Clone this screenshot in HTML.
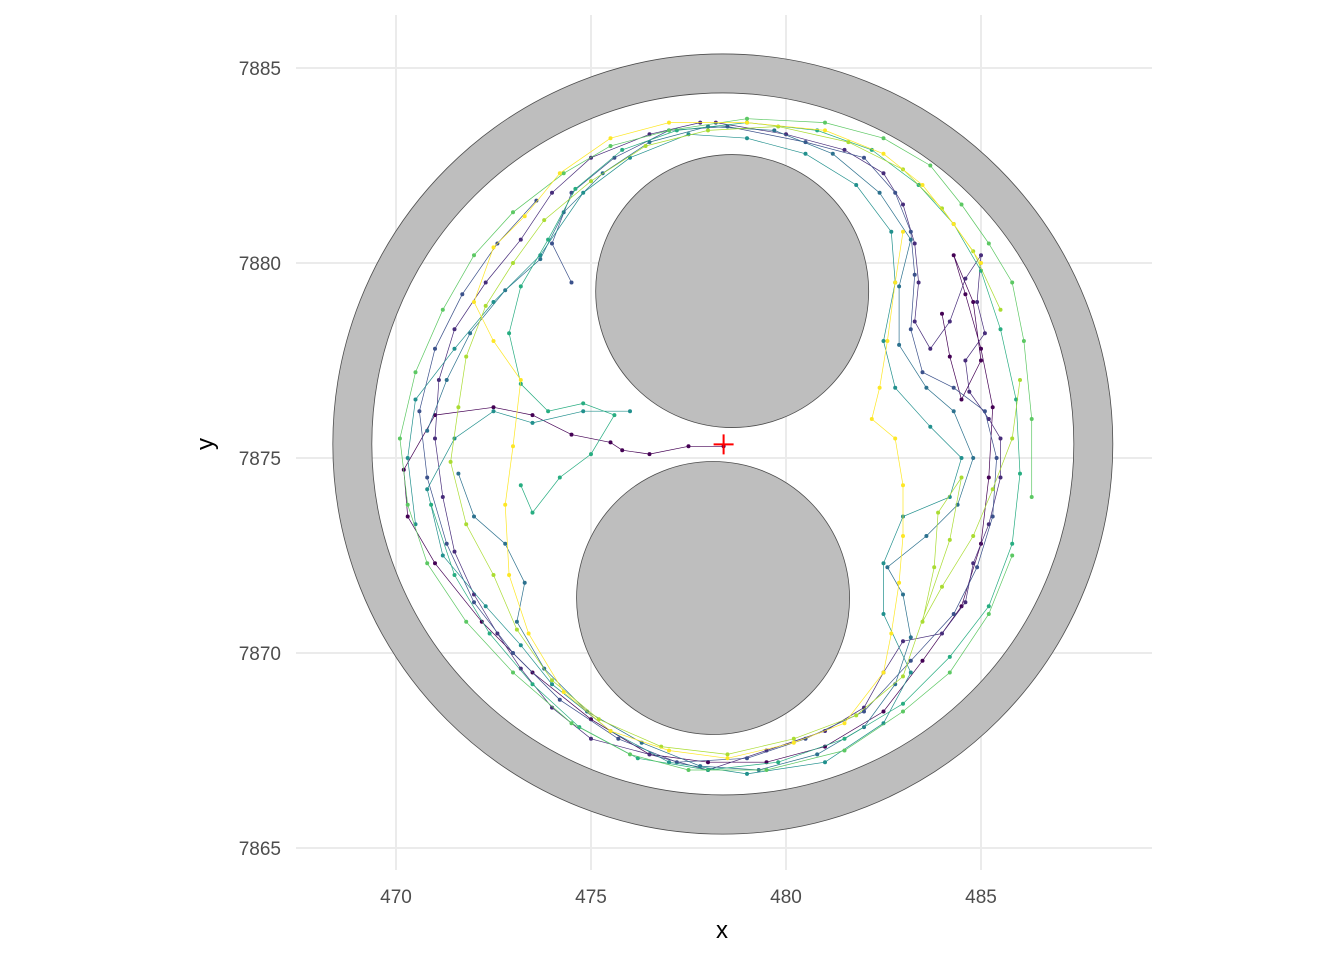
<!DOCTYPE html>
<html><head><meta charset="utf-8"><style>
body{margin:0;background:#fff;}
svg{display:block;font-family:"Liberation Sans",sans-serif;}
</style></head><body>
<svg id="chart" width="1344" height="960" viewBox="0 0 1344 960" xmlns="http://www.w3.org/2000/svg">
<rect width="1344" height="960" fill="#fff"/>
<g id="grid"></g>
<g id="arena"></g>
<g id="tracks"></g>
<g id="marker"></g>
<g id="axes"></g>
</svg>
<script>
const xTicks=[470,475,480,485];
const yTicks=[7865,7870,7875,7880,7885];
const arenaCenter=[478.38,7875.36];
const outerRadius=10;
const innerRadius=9;
const obstacleTop=[478.62,7879.28,3.5];
const obstacleBottom=[478.13,7871.41,3.5];
const startPoint=[478.4,7875.35];
const trackColors=["#440154","#472c7a","#3b518b","#2c718e","#21908d","#27ad81","#5cc863","#aadc32","#fde725"];
const track0=[[478.4,7875.3],[477.5,7875.3],[476.5,7875.1],[475.8,7875.2],[475.5,7875.4],[474.5,7875.6],[473.5,7876.1],[472.5,7876.3],[471,7876.1],[470.2,7874.7],[470.3,7873.5],[471,7872.3],[472.2,7870.8],[473.5,7869.5],[475,7868.3],[476.5,7867.4],[478,7867.2],[479.5,7867.2],[481,7867.6],[482.5,7868.5],[483.5,7869.8],[484.5,7871.2],[485,7872.8],[485.2,7874.5],[485.3,7876.3],[485,7877.8],[484.6,7879.2],[484.3,7880.2],[484.8,7879],[485,7877.5],[484.5,7876.5],[484.2,7877.6],[484,7878.7]];
const track1=[[478.2,7883.6],[480,7883.3],[481.5,7882.9],[482.5,7882.3],[483,7881.5],[483.3,7880.5],[483.4,7879.5],[483.3,7878.5],[483.7,7877.8],[484.2,7878.5],[484.6,7879.6],[485,7880.2],[484.9,7879],[485.1,7878.2],[484.6,7877.5],[484.7,7876.7],[485.2,7876],[485.5,7875.5],[485.5,7874.5],[485.2,7873.3],[484.8,7872.3],[484.6,7871.3],[484,7870.5],[483,7870.3],[482.5,7869.5],[482,7868.6],[481,7868],[479.5,7867.5],[478,7867],[476.5,7867.4],[475,7867.8],[474,7868.6],[473.2,7869.6],[472.6,7870.5],[472,7871.5],[471.5,7872.6],[471.2,7874],[471,7875.5],[471.1,7877],[471.5,7878.3],[472.3,7879.5],[473.2,7880.6],[474,7881.8],[475,7882.7],[476.5,7883.3],[477.8,7883.6]];
const track2=[[474.5,7879.5],[474,7880.5],[474.5,7881.8],[475.6,7882.7],[477,7883.4],[478.5,7883.5],[480.5,7883.1],[482,7882.7],[482.8,7881.8],[483.2,7880.8],[483.3,7879.7],[483.2,7878.3],[483.5,7877.2],[484.3,7876.8],[485.1,7876.2],[485.4,7875],[485.3,7873.5],[484.9,7872.2],[484.3,7871],[483.2,7869.8],[482,7868.5],[480.5,7867.8],[479,7867.3],[477.2,7867.2],[475.7,7867.8],[474.2,7868.8],[473,7870],[472,7871.3],[471.3,7872.8],[470.8,7874.5],[470.6,7876.2],[471,7877.8],[471.7,7879.2],[472.6,7880.5],[473.6,7881.6]];
const track3=[[471.6,7874.6],[472,7873.5],[472.8,7872.8],[473.3,7871.8],[473.1,7870.8],[473.8,7869.6],[474.9,7868.5],[476.3,7867.7],[477.8,7867.1],[479.3,7867],[480.8,7867.4],[482,7868.1],[482.8,7869.2],[483.2,7870.4],[483,7871.5],[482.6,7872.2],[483.6,7873],[484.4,7873.8],[484.8,7875],[484.3,7876.2],[483.6,7876.8],[482.9,7877.9],[482.9,7879.4],[483.2,7880.6],[482.4,7881.8],[481.2,7882.8],[479.7,7883.4],[478,7883.5],[476.5,7883.1],[475.3,7882.3],[474.3,7881.3],[473.7,7880.1],[472.8,7879.3],[471.9,7878.2],[471.3,7877],[470.8,7875.7]];
const track4=[[476,7876.2],[474.8,7876.2],[473.5,7875.9],[472.5,7876.2],[471.5,7875.5],[470.8,7874.2],[471.2,7872.5],[472.3,7871.2],[473.2,7870.2],[474,7869.2],[475.5,7868],[477,7867.2],[479,7866.9],[481,7867.2],[482.5,7868.2],[483.2,7869.5],[482.5,7871],[482.5,7872.3],[483,7873.5],[484.2,7874],[484.5,7875],[483.7,7875.8],[482.8,7876.8],[482.5,7878],[482.8,7879.5],[482.7,7880.8],[481.8,7882],[480.5,7882.8],[479,7883.2],[477.5,7883.3],[476,7882.7],[474.8,7881.8],[473.7,7880.2],[472.5,7879],[471.5,7877.8],[470.5,7876.5],[470.3,7875],[470.5,7873.3]];
const track5=[[473.2,7874.3],[473.5,7873.6],[474.2,7874.5],[475,7875.1],[475.6,7876.1],[474.8,7876.4],[473.9,7876.2],[473.2,7876.9],[472.9,7878.2],[473.2,7879.4],[473.9,7880.6],[474.6,7881.9],[475.8,7882.9],[477.2,7883.4],[479,7883.6],[480.8,7883.4],[482.2,7882.9],[483.4,7882],[484.3,7881],[485,7879.8],[485.5,7878.3],[485.9,7876.5],[486,7874.6],[485.8,7872.8],[485.2,7871.2],[484.2,7869.9],[483,7868.7],[481.5,7867.8],[479.8,7867.2],[478,7867],[476.2,7867.3],[474.7,7868.1],[473.5,7869.2],[472.4,7870.5],[471.5,7872],[470.9,7873.8]];
const track6=[[486.3,7874],[486.3,7876],[486.1,7878],[485.8,7879.5],[485.2,7880.5],[484.5,7881.5],[483.7,7882.5],[482.5,7883.2],[481,7883.6],[479,7883.7],[477,7883.4],[475.5,7883],[474.3,7882.3],[473,7881.3],[472,7880.2],[471.2,7878.8],[470.5,7877.2],[470.1,7875.5],[470.3,7873.8],[470.8,7872.3],[471.8,7870.8],[473,7869.5],[474.5,7868.2],[476,7867.4],[477.5,7867],[479.5,7867],[481.5,7867.5],[483,7868.5],[484.2,7869.5],[485.2,7871],[485.8,7872.5]];
const track7=[[486,7877],[485.8,7875.5],[485.3,7874.2],[484.8,7873],[484,7871.7],[483.5,7870.8],[483.8,7872.2],[483.9,7873.6],[484.5,7874.5],[484.2,7872.9],[483,7869.4],[481.8,7868.4],[480.2,7867.8],[478.5,7867.4],[476.8,7867.6],[475.2,7868.3],[474,7869.3],[473.1,7870.6],[472.5,7872],[471.8,7873.3],[471.4,7874.9],[471.6,7876.3],[471.8,7877.6],[472.3,7878.9],[473,7880],[473.8,7881.1],[475,7882.1],[476.4,7883],[478,7883.4],[479.8,7883.5],[481.6,7883.1],[483,7882.4],[484,7881.4],[484.8,7880.3],[485.5,7878.8]];
const track8=[[483,7880.8],[482.8,7879.5],[482.6,7878],[482.4,7876.8],[482.2,7876],[482.8,7875.5],[483,7874.3],[483,7873],[482.9,7871.8],[482.7,7870.5],[482.5,7869.5],[481.5,7868.2],[480.2,7867.7],[478.5,7867.3],[477,7867.5],[475.5,7868],[474.3,7869],[473.4,7870.5],[472.9,7872],[472.8,7873.8],[473,7875.3],[473.2,7877],[472.5,7878],[472,7879],[472.5,7880.4],[473.3,7881.2],[474.2,7882.3],[475.5,7883.2],[477,7883.6],[479,7883.6],[481,7883.4],[482.5,7882.8],[483.5,7882],[484.3,7881],[485,7880]];
const tracks=[track0,track1,track2,track3,track4,track5,track6,track7,track8];

const NS="http://www.w3.org/2000/svg";
const sx=v=>396+(v-470)*39;
const sy=v=>458-(v-7875)*39;
const S=39;
function mk(tag,attrs,parent){const e=document.createElementNS(NS,tag);for(const k in attrs)e.setAttribute(k,attrs[k]);parent.appendChild(e);return e;}
const grid=document.getElementById('grid');
xTicks.forEach(t=>{
  const l=mk('line',{x1:sx(t),x2:sx(t),y1:15,y2:870,stroke:'#ebebeb','stroke-width':2},grid);
  
  
});
yTicks.forEach(t=>{
  const l=mk('line',{x1:296,x2:1152,y1:sy(t),y2:sy(t),stroke:'#ebebeb','stroke-width':2},grid);
  
  
});
const arena=document.getElementById('arena');
const ring=mk('path',{d:`M ${sx(arenaCenter[0])-outerRadius*S} ${sy(arenaCenter[1])} a ${outerRadius*S} ${outerRadius*S} 0 1 0 ${2*outerRadius*S} 0 a ${outerRadius*S} ${outerRadius*S} 0 1 0 ${-2*outerRadius*S} 0 Z M ${sx(arenaCenter[0])-innerRadius*S} ${sy(arenaCenter[1])} a ${innerRadius*S} ${innerRadius*S} 0 1 1 ${2*innerRadius*S} 0 a ${innerRadius*S} ${innerRadius*S} 0 1 1 ${-2*innerRadius*S} 0 Z`,fill:'#bebebe',stroke:'#4d4d4d','stroke-width':0.8,'fill-rule':'evenodd'},arena);


[obstacleTop,obstacleBottom].forEach((o,i)=>{
  const c=mk('circle',{cx:sx(o[0]),cy:sy(o[1]),r:o[2]*S,fill:'#bebebe',stroke:'#4d4d4d','stroke-width':0.8},arena);
  
  
});
const tg=document.getElementById('tracks');
tracks.forEach((tr,i)=>{
  const col=trackColors[i];
  const p=mk('polyline',{points:tr.map(q=>sx(q[0])+','+sy(q[1])).join(' '),fill:'none',stroke:col,'stroke-width':0.7},tg);
  
  
  tr.forEach(q=>{
    const c=mk('circle',{cx:sx(q[0]),cy:sy(q[1]),r:2,fill:col},tg);
    
    
  });
});
const mg=document.getElementById('marker');
const mx=sx(startPoint[0]),my=sy(startPoint[1]);
const m=mk('path',{d:`M ${mx-10} ${my} H ${mx+10} M ${mx} ${my-10} V ${my+10}`,stroke:'#ff0000','stroke-width':2},mg);


const ax=document.getElementById('axes');
xTicks.forEach(t=>{
  const e=mk('text',{x:sx(t),y:903,'text-anchor':'middle','font-size':19,fill:'#4d4d4d'},ax);
  e.textContent=t;
  
  
});
yTicks.forEach(t=>{
  const e=mk('text',{x:281,y:sy(t)+7,'text-anchor':'end','font-size':19,fill:'#4d4d4d'},ax);
  e.textContent=t;
  
  
});
const xt=mk('text',{x:722,y:938,'text-anchor':'middle','font-size':24,fill:'#000'},ax);
xt.textContent='x';


const yt=mk('text',{x:213,y:444,'text-anchor':'middle','font-size':24,fill:'#000',transform:'rotate(-90 213 444)'},ax);
yt.textContent='y';


</script>
</body></html>
